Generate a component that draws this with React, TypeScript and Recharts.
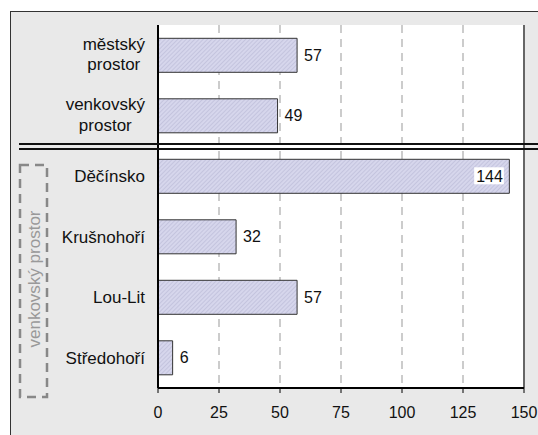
import React from "react";
import {
  BarChart,
  Bar,
  XAxis,
  YAxis,
  CartesianGrid,
  ReferenceLine,
  LabelList,
} from "recharts";

// ---- data ----
const categories = [
  "městský\nprostor",
  "venkovský\nprostor",
  "Děčínsko",
  "Krušnohoří",
  "Lou-Lit",
  "Středohoří",
];
const values = [57, 49, 144, 32, 57, 6];
const xTicks = [0, 25, 50, 75, 100, 125, 150];
const groupLabel = "venkovský prostor";

const data = categories.map((name, i) => ({ name, value: values[i] }));

// ---- layout constants ----
const W = 538;
const H = 435;
const MARGIN = { top: 25, right: 14, bottom: 0, left: 0 };
const PLOT_RIGHT = W - MARGIN.right;
const FONT = "'Liberation Sans', Arial, sans-serif";

let canvasEl: HTMLCanvasElement | null = null;
function measure(text: string, size: number): number {
  if (typeof document === "undefined") return text.length * size * 0.55;
  if (!canvasEl) canvasEl = document.createElement("canvas");
  const ctx = canvasEl.getContext("2d");
  if (!ctx) return text.length * size * 0.55;
  ctx.font = `${size}px 'Liberation Sans', Arial, sans-serif`;
  return ctx.measureText(text).width;
}

const CategoryTick = (props: any) => {
  const { x, y, payload } = props;
  const lines = String(payload.value).split("\n");
  const size = 17;
  if (lines.length === 1) {
    return (
      <text
        x={x}
        y={y}
        dy="0.35em"
        textAnchor="end"
        fontFamily={FONT}
        fontSize={size}
        fill="#111"
      >
        {lines[0]}
      </text>
    );
  }
  const maxW = Math.max(...lines.map((l) => measure(l, size)));
  const cx = x - maxW / 2;
  const lh = 20.5;
  return (
    <g>
      {lines.map((l, i) => (
        <text
          key={i}
          x={cx}
          y={y + (i - (lines.length - 1) / 2) * lh - 1}
          dy="0.35em"
          textAnchor="middle"
          fontFamily={FONT}
          fontSize={size}
          fill="#111"
        >
          {l}
        </text>
      ))}
    </g>
  );
};

const ValueLabel = (props: any) => {
  const { x, y, width, height, value } = props;
  const size = 16;
  const end = x + width;
  const cy = y + height / 2;
  const tw = measure(String(value), size);
  if (end + 7 + tw > PLOT_RIGHT) {
    const tx = end - 6.5;
    return (
      <g>
        <rect x={tx - tw - 2} y={cy - 9} width={tw + 3} height={17} fill="#fff" />
        <text
          x={tx}
          y={cy}
          dy="0.35em"
          textAnchor="end"
          fontFamily={FONT}
          fontSize={size}
          fill="#111"
        >
          {value}
        </text>
      </g>
    );
  }
  return (
    <text
      x={end + 7}
      y={cy}
      dy="0.35em"
      textAnchor="start"
      fontFamily={FONT}
      fontSize={size}
      fill="#111"
    >
      {value}
    </text>
  );
};

export default function App() {
  return (
    <div
      style={{
        position: "absolute",
        left: 0,
        top: 0,
        width: W,
        height: H,
        overflow: "hidden",
      }}
    >
      <svg width={0} height={0} style={{ position: "absolute" }}>
        <defs>
          <pattern
            id="hatch"
            width="3"
            height="3"
            patternUnits="userSpaceOnUse"
            patternTransform="rotate(45)"
          >
            <rect width="3" height="3" fill="#d6d6ec" />
            <line x1="0" y1="0" x2="0" y2="3" stroke="#b2b2d0" strokeWidth="1" />
          </pattern>
        </defs>
      </svg>
      <div
        style={{
          position: "absolute",
          left: 10,
          top: 11,
          width: W - 10,
          height: H - 11,
          background: "#e9e9e9",
          borderLeft: "1px solid #333",
          borderTop: "1px solid #333",
          boxSizing: "border-box",
        }}
      />
      <div style={{ position: "absolute", left: 0, top: 0 }}>
        <BarChart
          width={W}
          height={H}
          data={data}
          layout="vertical"
          margin={MARGIN}
          barCategoryGap="22%"
        >
          <CartesianGrid
            horizontal={false}
            fill="#fff"
            stroke="#999"
            strokeDasharray="8 6"
          />
          <XAxis
            type="number"
            domain={[0, 150]}
            ticks={xTicks}
            allowDataOverflow
            height={47}
            axisLine={{ stroke: "#000", strokeWidth: 2 }}
            tickLine={{ stroke: "#000", strokeWidth: 1 }}
            tickSize={5}
            tickMargin={14}
            tick={{ fontFamily: FONT, fontSize: 16, fill: "#111" }}
          />
          <XAxis
            xAxisId="top"
            orientation="top"
            type="number"
            domain={[0, 150]}
            height={0}
            tick={false}
            tickLine={false}
            axisLine={{ stroke: "#444", strokeWidth: 2 }}
          />
          <YAxis
            type="category"
            dataKey="name"
            width={158}
            axisLine={{ stroke: "#000", strokeWidth: 2 }}
            tickLine={false}
            tickSize={0}
            tickMargin={13}
            interval={0}
            tick={<CategoryTick />}
          />
          <ReferenceLine x={150} stroke="#666" strokeWidth={2} />
          <Bar
            dataKey="value"
            fill="url(#hatch)"
            stroke="#333"
            strokeWidth={1}
            isAnimationActive={false}
          >
            <LabelList dataKey="value" content={<ValueLabel />} />
          </Bar>
        </BarChart>
      </div>
      <svg
        width={W}
        height={H}
        style={{ position: "absolute", left: 0, top: 0, pointerEvents: "none" }}
      >
        <line x1={19} y1={144} x2={W} y2={144} stroke="#111" strokeWidth={2} />
        <line x1={19} y1={149} x2={W} y2={149} stroke="#111" strokeWidth={2} />
        <rect
          x={20}
          y={165}
          width={27}
          height={232}
          fill="none"
          stroke="#888"
          strokeWidth={2.5}
          strokeDasharray="9 6"
        />
        <text
          transform="translate(40 279) rotate(-90)"
          textAnchor="middle"
          fontFamily={FONT}
          fontSize={17}
          fill="#999"
        >
          {groupLabel}
        </text>
      </svg>
    </div>
  );
}
